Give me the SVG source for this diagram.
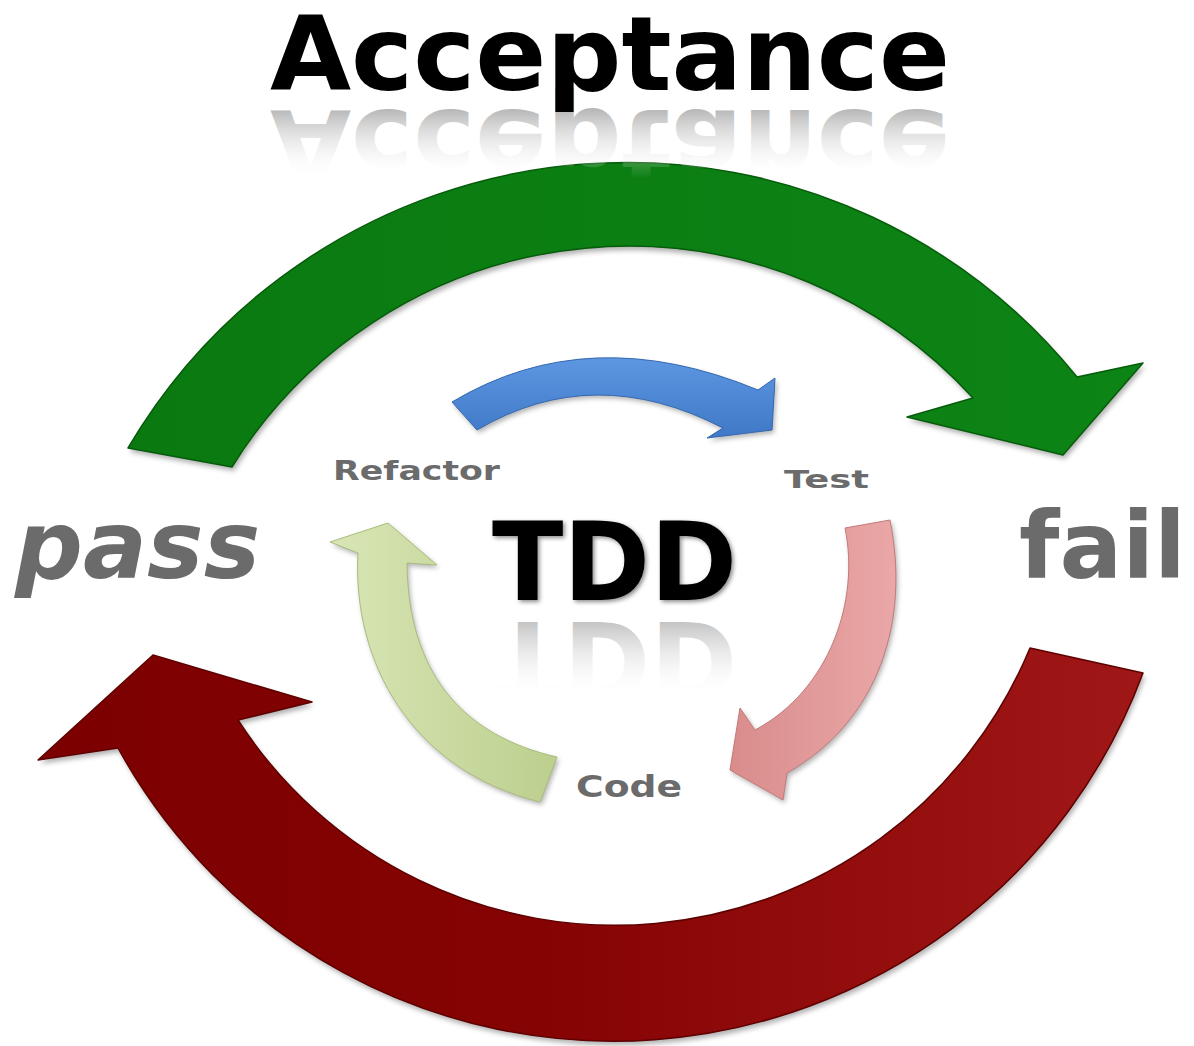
<svg xmlns="http://www.w3.org/2000/svg" width="1194" height="1046" viewBox="0 0 1194 1046">
  <defs>
    <style>
      .big { font-family: "DejaVu Sans", Verdana, sans-serif; font-weight: bold; }
      .blk { fill: #000000; }
      .gry { fill: #6b6b6b; }
      .shadow { fill: #000000; fill-opacity: 0.3; filter: url(#blur); }
    </style>
    <filter id="blur" x="-5%" y="-5%" width="110%" height="110%">
      <feGaussianBlur stdDeviation="2.5"/>
    </filter>
    <filter id="soft" x="-10%" y="-20%" width="130%" height="150%">
      <feDropShadow dx="2" dy="2" stdDeviation="2" flood-color="#000000" flood-opacity="0.45"/>
    </filter>
    <linearGradient id="redGrad" gradientUnits="userSpaceOnUse" x1="38" y1="0" x2="1143" y2="0">
      <stop offset="0" stop-color="#7c0000"/>
      <stop offset="0.45" stop-color="#860303"/>
      <stop offset="1" stop-color="#a01717"/>
    </linearGradient>
    <linearGradient id="greenGrad" gradientUnits="userSpaceOnUse" x1="128" y1="0" x2="1143" y2="0">
      <stop offset="0" stop-color="#0a7a10"/>
      <stop offset="1" stop-color="#0d8416"/>
    </linearGradient>
    <linearGradient id="blueGrad" x1="0" y1="0" x2="0" y2="1">
      <stop offset="0" stop-color="#5d97e2"/>
      <stop offset="1" stop-color="#3f78c6"/>
    </linearGradient>
    <linearGradient id="pinkGrad" x1="0" y1="0" x2="1" y2="0">
      <stop offset="0" stop-color="#d98c8c"/>
      <stop offset="1" stop-color="#eaa7a7"/>
    </linearGradient>
    <linearGradient id="lgGrad" x1="0" y1="0" x2="1" y2="0">
      <stop offset="0" stop-color="#d9e6b6"/>
      <stop offset="1" stop-color="#bccf8e"/>
    </linearGradient>
    <linearGradient id="reflA" gradientUnits="userSpaceOnUse" x1="0" y1="90" x2="0" y2="22">
      <stop offset="0" stop-color="#b0b0b0" stop-opacity="0.9"/>
      <stop offset="1" stop-color="#ffffff" stop-opacity="0"/>
    </linearGradient>
    <linearGradient id="reflT" gradientUnits="userSpaceOnUse" x1="0" y1="600" x2="0" y2="525">
      <stop offset="0" stop-color="#bdbdbd" stop-opacity="0.9"/>
      <stop offset="1" stop-color="#ffffff" stop-opacity="0"/>
    </linearGradient>
    <path id="pGreen" d="M 128,448 A 579 579 0 0 1 1077,377 L 1143,363 L 1063,455 L 907,417 L 973,398 A 466.5 466.5 0 0 0 232,467 Z"/>
    <path id="pRed" d="M 1143,673 A 565 565 0 0 1 118,748 L 38,760 L 153,655 L 312,702 L 238,720 A 449 449 0 0 0 1030,648 Z"/>
    <path id="pBlue" d="M 452,402 Q 589,320 758,390 L 775,378 L 772,430 L 707,438 L 723,428 Q 594,361 477,430 Z"/>
    <path id="pPink" d="M 845,528 L 890,520 C 910,620 880,720 787,773 L 783,800 L 730,770 L 740,708 L 755,730 C 830,690 860,600 845,528 Z"/>
    <path id="pLight" d="M 557,757 C 460,735 408,670 407,563 L 437,565 L 388,523 L 330,542 L 358,553 C 352,660 410,770 540,802 Z"/>
  </defs>

  <rect x="0" y="0" width="1194" height="1046" fill="#ffffff"/>

  <g id="connectors">
    <g id="acceptance-pass-to-fail">
      <use href="#pGreen" class="shadow" transform="translate(2,4)"/>
      <use href="#pGreen" fill="url(#greenGrad)" stroke="#075c0b" stroke-width="1.5" stroke-linejoin="round"/>
    </g>
    <g id="acceptance-fail-to-pass">
      <use href="#pRed" class="shadow" transform="translate(2,4)"/>
      <use href="#pRed" fill="url(#redGrad)" stroke="#5e0000" stroke-width="1.5" stroke-linejoin="round"/>
    </g>
    <g id="refactor-to-test">
      <use href="#pBlue" class="shadow" transform="translate(2,3)"/>
      <use href="#pBlue" fill="url(#blueGrad)" stroke="#3468b0" stroke-width="1" stroke-linejoin="round"/>
    </g>
    <g id="test-to-code">
      <use href="#pPink" class="shadow" transform="translate(2,3)"/>
      <use href="#pPink" fill="url(#pinkGrad)" stroke="#c47a7a" stroke-width="1" stroke-linejoin="round"/>
    </g>
    <g id="code-to-refactor">
      <use href="#pLight" class="shadow" transform="translate(2,3)"/>
      <use href="#pLight" fill="url(#lgGrad)" stroke="#a9bd7c" stroke-width="1" stroke-linejoin="round"/>
    </g>
  </g>

  <g id="node-acceptance">
    <text class="big" x="270" y="90" font-size="104" textLength="680" lengthAdjust="spacingAndGlyphs" fill="url(#reflA)" transform="translate(0,200) scale(1,-1)">Acceptance</text>
    <text class="big blk" x="270" y="90" font-size="104" textLength="680" lengthAdjust="spacingAndGlyphs">Acceptance</text>
  </g>

  <g id="node-tdd">
    <text class="big" x="492" y="600" font-size="108" textLength="245" lengthAdjust="spacingAndGlyphs" fill="url(#reflT)" transform="translate(0,1222) scale(1,-1)">TDD</text>
    <text class="big blk" x="492" y="600" font-size="108" textLength="245" lengthAdjust="spacingAndGlyphs" filter="url(#soft)">TDD</text>
  </g>

  <g id="node-pass">
    <text class="big gry" x="15" y="578" font-size="95" font-style="italic">pass</text>
  </g>

  <g id="node-fail">
    <text class="big gry" x="1186" y="578" font-size="93" text-anchor="end">fail</text>
  </g>

  <g id="node-refactor">
    <text class="big gry" x="333" y="480" font-size="27" textLength="167" lengthAdjust="spacingAndGlyphs">Refactor</text>
  </g>

  <g id="node-test">
    <text class="big gry" x="784" y="488" font-size="25" textLength="85" lengthAdjust="spacingAndGlyphs">Test</text>
  </g>

  <g id="node-code">
    <text class="big gry" x="576" y="797" font-size="30" textLength="106" lengthAdjust="spacingAndGlyphs">Code</text>
  </g>
</svg>
